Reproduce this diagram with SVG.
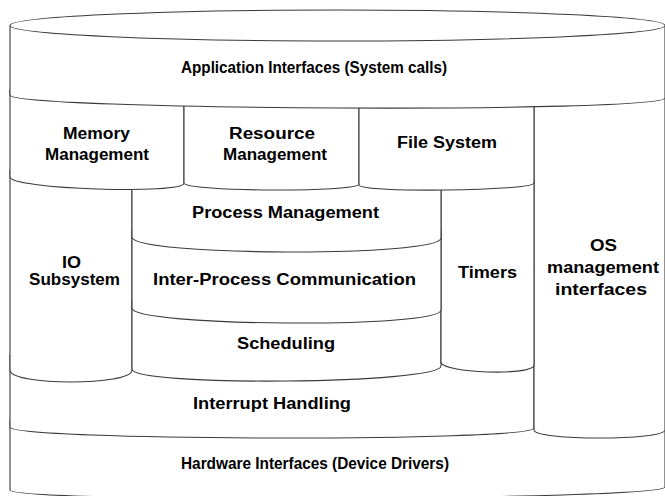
<svg xmlns="http://www.w3.org/2000/svg" width="665" height="496" viewBox="0 0 665 496">
<style>
.s{fill:#fff;stroke:#3a3a3a;stroke-width:1.1;stroke-linejoin:round}
.t{font-family:"Liberation Sans",Arial,sans-serif;font-weight:bold;font-size:16px;fill:#000}
</style>
<rect width="665" height="496" fill="#fff"/>
<g id="hardware">
<path class="s" d="M10,420 V490 C10,503.3 665,500.3 665,487 V420 Z"/>
<text class="t" x="181" y="469" textLength="268" lengthAdjust="spacingAndGlyphs">Hardware Interfaces (Device Drivers)</text>
</g>
<g id="interrupt">
<path class="s" d="M10,355 V427 C10,441 534,442 534,428 V355 Z"/>
<text class="t" x="193" y="409" textLength="158" lengthAdjust="spacingAndGlyphs">Interrupt Handling</text>
</g>
<g id="os-mgmt">
<path class="s" d="M534,90 V430 C534,440.7 665,440.7 665,430 V90 Z"/>
<text class="t" x="590" y="251" textLength="27" lengthAdjust="spacingAndGlyphs">OS</text>
<text class="t" x="547" y="273" textLength="112" lengthAdjust="spacingAndGlyphs">management</text>
<text class="t" x="555" y="295" textLength="92" lengthAdjust="spacingAndGlyphs">interfaces</text>
</g>
<g id="io">
<path class="s" d="M10,170 V370 C10,386 132,386 132,370 V170 Z"/>
<text class="t" x="62" y="268" textLength="19" lengthAdjust="spacingAndGlyphs">IO</text>
<text class="t" x="29" y="285" textLength="91" lengthAdjust="spacingAndGlyphs">Subsystem</text>
</g>
<g id="scheduling">
<path class="s" d="M132,300 V369 C132,387 441,384 441,366 V300 Z"/>
<text class="t" x="237" y="349" textLength="98" lengthAdjust="spacingAndGlyphs">Scheduling</text>
</g>
<g id="timers">
<path class="s" d="M441,180 V362 C441,373.3 534,376.3 534,365 V180 Z"/>
<text class="t" x="458" y="278" textLength="59" lengthAdjust="spacingAndGlyphs">Timers</text>
</g>
<g id="ipc">
<path class="s" d="M132,230 V308 C132,326.7 441,328.7 441,310 V230 Z"/>
<text class="t" x="153" y="285" textLength="263" lengthAdjust="spacingAndGlyphs">Inter-Process Communication</text>
</g>
<g id="process">
<path class="s" d="M132,180 V237 C132,256.3 441,257.3 441,238 V180 Z"/>
<text class="t" x="192" y="218" textLength="187" lengthAdjust="spacingAndGlyphs">Process Management</text>
</g>
<g id="memory">
<path class="s" d="M10,90 V177 C10,189 184,195 184,183 V90 Z"/>
<text class="t" x="63" y="138.5" textLength="67" lengthAdjust="spacingAndGlyphs">Memory</text>
<text class="t" x="45" y="159.5" textLength="104" lengthAdjust="spacingAndGlyphs">Management</text>
</g>
<g id="resource">
<path class="s" d="M184,95 V183 C184,191.7 359,192.7 359,184 V95 Z"/>
<text class="t" x="229" y="138.5" textLength="86" lengthAdjust="spacingAndGlyphs">Resource</text>
<text class="t" x="223" y="159.5" textLength="104" lengthAdjust="spacingAndGlyphs">Management</text>
</g>
<g id="filesystem">
<path class="s" d="M359,95 V185 C359,193 534,191 534,183 V95 Z"/>
<text class="t" x="397" y="148" textLength="100" lengthAdjust="spacingAndGlyphs">File System</text>
</g>
<g id="application">
<path class="s" d="M10,25.5 V95 C10,110.3 665,113.3 665,98 V25.5 A327.5,15.5 0 0 0 10,25.5 Z"/>
<path class="s" fill="none" d="M10,25.5 A327.5,15.5 0 0 0 665,25.5"/>
<text class="t" x="181" y="73" textLength="266" lengthAdjust="spacingAndGlyphs">Application Interfaces (System calls)</text>
</g>
<g id="connectors"/>
</svg>
